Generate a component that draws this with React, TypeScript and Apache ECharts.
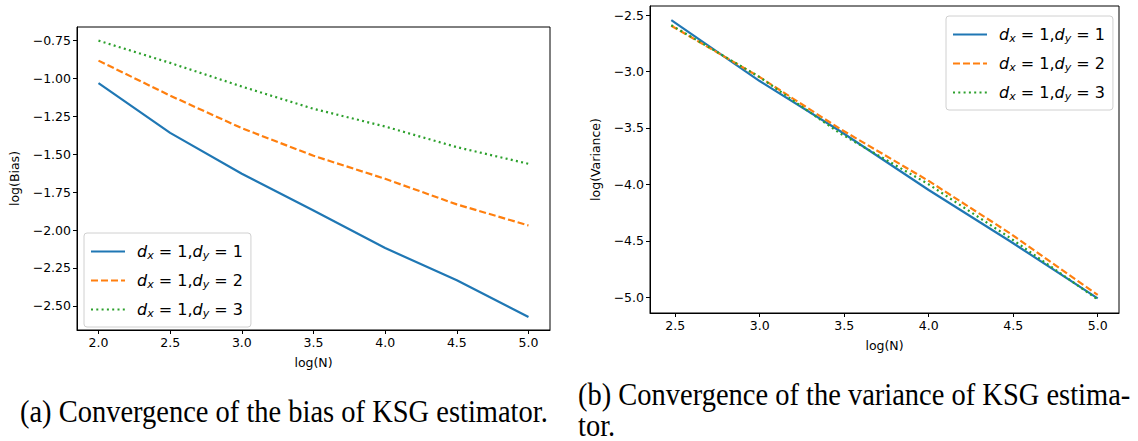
import React, { useEffect, useRef } from "react";
import * as echarts from "echarts";

const biasX = [2.0, 2.5, 3.0, 3.5, 4.0, 4.5, 5.0];
const biasD1 = [-1.031, -1.359, -1.629, -1.871, -2.119, -2.332, -2.574];
const biasD2 = [-0.882, -1.113, -1.328, -1.51, -1.662, -1.831, -1.97];
const biasD3 = [-0.75, -0.897, -1.053, -1.2, -1.317, -1.453, -1.563];

const varX = [2.477, 3.0, 3.477, 4.0, 4.477, 5.0];
const varD1 = [-2.545, -3.085, -3.53, -4.05, -4.5, -5.01];
const varD2 = [-2.595, -3.05, -3.51, -3.97, -4.43, -4.98];
const varD3 = [-2.59, -3.05, -3.55, -4.0, -4.47, -5.02];

const biasXTicks = [2.0, 2.5, 3.0, 3.5, 4.0, 4.5, 5.0];
const biasYTicks = [-2.5, -2.25, -2.0, -1.75, -1.5, -1.25, -1.0, -0.75];
const varXTicks = [2.5, 3.0, 3.5, 4.0, 4.5, 5.0];
const varYTicks = [-5.0, -4.5, -4.0, -3.5, -3.0, -2.5];

const seriesNames = ["s1", "s2", "s3"];
const colors = ["#1f77b4", "#ff7f0e", "#2ca02c"];
const captionA = "(a) Convergence of the bias of KSG estimator.";
const captionB1 = "(b) Convergence of the variance of KSG estima-";
const captionB2 = "tor.";

const FONT = "DejaVu Sans";
const fmt = (d: number) => (v: number) => v.toFixed(d).replace("-", "\u2212");

const legendRich = {
  i0: { fontFamily: FONT, fontStyle: "italic", fontSize: 16, color: "#000", lineHeight: 18, padding: [0, 0, 0, 7] },
  i: { fontFamily: FONT, fontStyle: "italic", fontSize: 16, color: "#000", lineHeight: 18 },
  s: { fontFamily: FONT, fontStyle: "italic", fontSize: 11, color: "#000", lineHeight: 18, padding: [8, 0, 0, 0] },
  n: { fontFamily: FONT, fontSize: 16, color: "#000", lineHeight: 18 },
};
const legendFmt = (name: string) => {
  const k = seriesNames.indexOf(name) + 1;
  return `{i0|d}{s|x}{n| = 1,}{i|d}{s|y}{n| = ${k}}`;
};

const lineTypes: any[] = ["solid", [7, 3], [2, 3.3]];

function makeSeries(xs: number[], ys: number[][], idx: number) {
  return ys.map((arr, k) => ({
    name: seriesNames[k],
    type: "line",
    xAxisIndex: idx,
    yAxisIndex: idx,
    data: xs.map((x, i) => [x, arr[i]]),
    symbol: "none",
    color: colors[k],
    lineStyle: { width: 2.2, type: lineTypes[k], color: colors[k] },
  }));
}

function axisCommon(ticks: number[], d: number) {
  return {
    axisLine: { show: true, onZero: false, lineStyle: { color: "#000", width: 1 } },
    axisTick: { show: true, inside: false, length: 4, lineStyle: { color: "#000" }, customValues: ticks },
    axisLabel: { show: true, fontFamily: FONT, fontSize: 12.5, color: "#000", formatter: fmt(d), customValues: ticks, margin: 6 },
    splitLine: { show: false },
  };
}

export default function App() {
  const ref = useRef<HTMLDivElement>(null);
  useEffect(() => {
    document.body.style.margin = "0";
    const chart = echarts.init(ref.current!, null, { renderer: "svg" });
    const legendBase = {
      orient: "vertical",
      itemWidth: 34,
      itemHeight: 10,
      itemGap: 10,
      padding: [9, 8, 8, 6],
      borderColor: "#d0d0d0",
      borderWidth: 1,
      borderRadius: 3,
      backgroundColor: "rgba(255,255,255,0.85)",
      itemStyle: { opacity: 0 },
      formatter: legendFmt,
      textStyle: { rich: legendRich },
      data: seriesNames,
    };
    const serifFont = '28.5px "Liberation Serif"';
    chart.setOption({
      animation: false,
      grid: [
        { left: 77, top: 27, width: 473, height: 303, show: true, borderColor: "#000", borderWidth: 1 },
        { left: 650, top: 6, width: 469, height: 307, show: true, borderColor: "#000", borderWidth: 1 },
      ],
      xAxis: [
        { type: "value", gridIndex: 0, min: 1.85, max: 5.15, name: "log(N)", nameLocation: "middle", nameGap: 26,
          nameTextStyle: { fontFamily: FONT, fontSize: 12.5, color: "#000" }, ...axisCommon(biasXTicks, 1) },
        { type: "value", gridIndex: 1, min: 2.351, max: 5.126, name: "log(N)", nameLocation: "middle", nameGap: 26,
          nameTextStyle: { fontFamily: FONT, fontSize: 12.5, color: "#000" }, ...axisCommon(varXTicks, 1) },
      ],
      yAxis: [
        { type: "value", gridIndex: 0, min: -2.66, max: -0.66, name: "log(Bias)", nameLocation: "middle", nameGap: 56,
          nameTextStyle: { fontFamily: FONT, fontSize: 12.5, color: "#000" }, ...axisCommon(biasYTicks, 2) },
        { type: "value", gridIndex: 1, min: -5.14, max: -2.42, name: "log(Variance)", nameLocation: "middle", nameGap: 48,
          nameTextStyle: { fontFamily: FONT, fontSize: 12.5, color: "#000" }, ...axisCommon(varYTicks, 1) },
      ],
      legend: [
        { ...legendBase, left: 84, top: 233 },
        { ...legendBase, left: 946, top: 16 },
      ],
      series: [
        ...makeSeries(biasX, [biasD1, biasD2, biasD3], 0),
        ...makeSeries(varX, [varD1, varD2, varD3], 1),
      ],
      graphic: [
        { type: "text", x: 20, y: 411, scaleY: 1.1, style: { text: captionA, font: serifFont, fill: "#000", verticalAlign: "middle" } },
        { type: "text", x: 578, y: 394, scaleY: 1.1, style: { text: captionB1, font: serifFont, fill: "#000", verticalAlign: "middle" } },
        { type: "text", x: 578, y: 425, scaleY: 1.1, style: { text: captionB2, font: serifFont, fill: "#000", verticalAlign: "middle" } },
      ],
    });
    return () => chart.dispose();
  }, []);
  return <div ref={ref} style={{ width: 1138, height: 441 }} />;
}
